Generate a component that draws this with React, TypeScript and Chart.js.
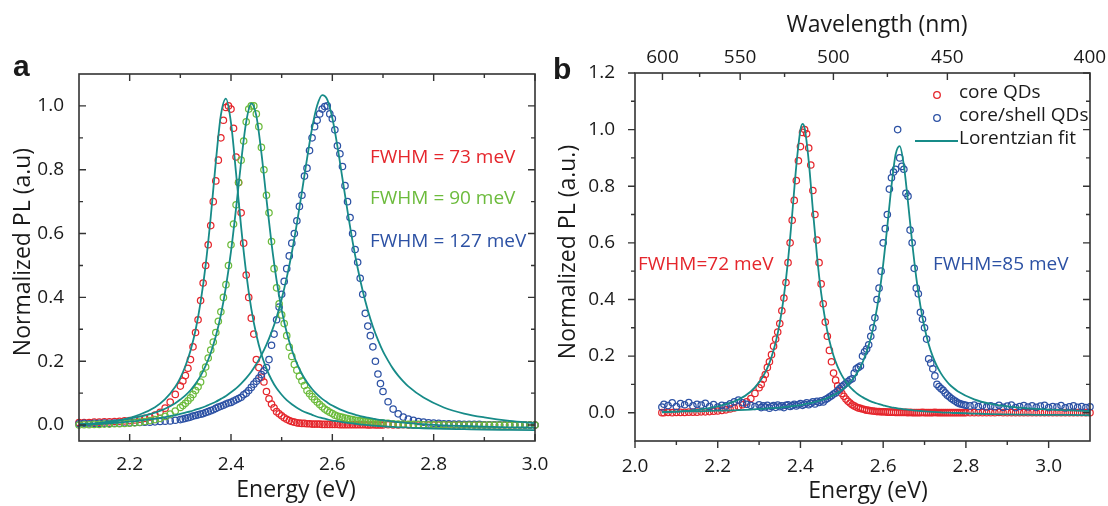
import React, { useEffect, useRef } from "react";
import { Chart, registerables } from "chart.js";
Chart.register(...registerables);

const FONT = "'Open Sans', 'Noto Sans', sans-serif";
const RED = "#e5262c";
const GREEN = "#6cbb3c";
const BLUE = "#2c51a4";
const TEAL = "#178b88";
const AXIS = "#333333";
const TEXT = "#1a1a1a";

// ---------- Panel a : points ----------
const energyA = [
  2.10, 2.11, 2.12, 2.13, 2.14, 2.15, 2.16, 2.17, 2.18, 2.19,
  2.20, 2.21, 2.22, 2.23, 2.24, 2.25, 2.26, 2.27, 2.28, 2.29,
  2.30, 2.305, 2.31, 2.315, 2.32, 2.325, 2.33, 2.335, 2.34, 2.345,
  2.35, 2.355, 2.36, 2.365, 2.37, 2.375, 2.38, 2.385, 2.39, 2.395,
  2.40, 2.405, 2.41, 2.415, 2.42, 2.425, 2.43, 2.435, 2.44, 2.445,
  2.45, 2.455, 2.46, 2.465, 2.47, 2.475, 2.48, 2.485, 2.49, 2.495,
  2.50, 2.505, 2.51, 2.515, 2.52, 2.525, 2.53, 2.535, 2.54, 2.545,
  2.55, 2.555, 2.56, 2.565, 2.57, 2.575, 2.58, 2.585, 2.59, 2.595,
  2.60, 2.605, 2.61, 2.615, 2.62, 2.625, 2.63, 2.635, 2.64, 2.645,
  2.65, 2.655, 2.66, 2.665, 2.67, 2.675, 2.68, 2.685, 2.69, 2.695,
  2.70, 2.71, 2.72, 2.73, 2.74, 2.75, 2.76, 2.77, 2.78, 2.79,
  2.80, 2.81, 2.82, 2.83, 2.84, 2.85, 2.86, 2.87, 2.88, 2.89,
  2.90, 2.91, 2.92, 2.93, 2.94, 2.95, 2.96, 2.97, 2.98, 2.99,
  3.00,
];
const redA = [
  0.008, 0.008, 0.008, 0.009, 0.009, 0.010, 0.010, 0.011, 0.012, 0.013,
  0.014, 0.016, 0.018, 0.021, 0.025, 0.031, 0.040, 0.053, 0.072, 0.096,
  0.122, 0.138, 0.155, 0.178, 0.205, 0.245, 0.29, 0.33, 0.39, 0.445,
  0.50, 0.565, 0.625, 0.70, 0.765, 0.83, 0.90, 0.955, 0.995, 1.0,
  0.99, 0.93, 0.84, 0.76, 0.665, 0.57, 0.47, 0.40, 0.335, 0.285,
  0.205, 0.18, 0.15, 0.135, 0.105, 0.082, 0.066, 0.054, 0.042, 0.035,
  0.029, 0.023, 0.018, 0.014, 0.011, 0.009, 0.007, 0.006, 0.005, 0.005,
  0.004, 0.004, 0.003, 0.003, 0.003, 0.003, 0.002, 0.002, 0.002, 0.002,
  0.002, 0.002, 0.002, 0.001, 0.001, 0.001, 0.001, 0.001, 0.001, 0.001,
  0.001, 0.001, 0.001, 0.001, 0.0, 0.0, 0.001, 0.0, 0.0, 0.0,
  0.0, 0.001, 0.0, 0.0, 0.001, 0.0, 0.0, 0.0, 0.001, 0.0,
  0.0, 0.0, 0.001, 0.0, 0.0, 0.0, 0.0, 0.001, 0.0, 0.0,
  0.0, 0.0, 0.0, 0.0, 0.0, 0.0, 0.0, 0.0, 0.0, 0.0,
  0.0,
];
const greenA = [
  0.000, 0.001, 0.001, 0.002, 0.002, 0.003, 0.003, 0.004, 0.004, 0.005,
  0.006, 0.007, 0.009, 0.011, 0.014, 0.017, 0.021, 0.027, 0.034, 0.044,
  0.055, 0.061, 0.068, 0.076, 0.085, 0.096, 0.108, 0.12, 0.135, 0.16,
  0.182, 0.21, 0.235, 0.26, 0.29, 0.325, 0.355, 0.40, 0.44, 0.50,
  0.565, 0.63, 0.69, 0.76, 0.83, 0.89, 0.95, 0.99, 1.0, 1.0,
  0.975, 0.935, 0.87, 0.80, 0.72, 0.665, 0.575, 0.49, 0.43, 0.38,
  0.345, 0.318, 0.28, 0.244, 0.215, 0.19, 0.172, 0.153, 0.138, 0.124,
  0.108, 0.098, 0.089, 0.08, 0.072, 0.064, 0.057, 0.05, 0.045, 0.04,
  0.036, 0.031, 0.028, 0.026, 0.024, 0.022, 0.020, 0.018, 0.017, 0.015,
  0.014, 0.013, 0.012, 0.011, 0.010, 0.009, 0.008, 0.008, 0.007, 0.007,
  0.006, 0.005, 0.004, 0.003, 0.003, 0.002, 0.002, 0.002, 0.001, 0.001,
  0.001, 0.001, 0.001, 0.0, 0.0, 0.0, 0.0, 0.0, 0.0, 0.0,
  0.0, 0.0, 0.0, 0.0, 0.0, 0.0, 0.0, 0.0, 0.0, 0.0,
  0.0,
];
const blueA = [
  0.004, 0.005, 0.004, 0.005, 0.005, 0.006, 0.005, 0.006, 0.006, 0.007,
  0.007, 0.008, 0.008, 0.009, 0.009, 0.010, 0.011, 0.012, 0.013, 0.015,
  0.017, 0.019, 0.021, 0.023, 0.025, 0.028, 0.030, 0.032, 0.034, 0.036,
  0.039, 0.042, 0.045, 0.048, 0.052, 0.056, 0.059, 0.062, 0.066, 0.069,
  0.071, 0.075, 0.079, 0.083, 0.087, 0.095, 0.10, 0.108, 0.118, 0.128,
  0.137, 0.147, 0.158, 0.17, 0.18, 0.205, 0.25, 0.285, 0.33, 0.37,
  0.41, 0.45, 0.49, 0.53, 0.57, 0.60, 0.64, 0.685, 0.72, 0.78,
  0.805, 0.86, 0.90, 0.935, 0.955, 0.975, 0.99, 0.998, 1.0, 0.975,
  0.96, 0.925, 0.875, 0.85, 0.81, 0.75, 0.70, 0.65, 0.60, 0.55,
  0.51, 0.46, 0.41, 0.35, 0.31, 0.28, 0.245, 0.20, 0.16, 0.13,
  0.105, 0.073, 0.05, 0.035, 0.025, 0.019, 0.015, 0.011, 0.009, 0.007,
  0.006, 0.005, 0.004, 0.004, 0.003, 0.003, 0.002, 0.002, 0.002, 0.002,
  0.001, 0.001, 0.001, 0.001, 0.001, 0.001, 0.001, 0.001, 0.0, 0.0,
  0.0,
];

// ---------- Panel a : Lorentzian fits ----------
const fitEnergyA = [
  2.10, 2.14, 2.18, 2.22, 2.25, 2.27, 2.29,
  2.30, 2.31, 2.32, 2.33, 2.34, 2.35, 2.36, 2.37, 2.38, 2.39,
  2.40, 2.41, 2.42, 2.43, 2.44, 2.45, 2.46, 2.47, 2.48, 2.49,
  2.50, 2.51, 2.52, 2.53, 2.54, 2.55, 2.56, 2.57, 2.58, 2.59,
  2.60, 2.61, 2.62, 2.63, 2.64, 2.65, 2.66, 2.67, 2.68, 2.69,
  2.70, 2.71, 2.72, 2.73, 2.74, 2.75,
  2.78, 2.82, 2.86, 2.90, 2.95, 3.00,
];
const redFitA = [
  -0.001, 0.005, 0.015, 0.033, 0.056, 0.081, 0.120,
  0.148, 0.185, 0.233, 0.297, 0.385, 0.502, 0.652, 0.824, 0.971, 1.023,
  0.947, 0.789, 0.620, 0.476, 0.365, 0.283, 0.222, 0.177, 0.142, 0.115,
  0.095, 0.078, 0.065, 0.054, 0.045, 0.038, 0.032, 0.026, 0.022, 0.018,
  0.014, 0.012, 0.009, 0.007, 0.005, 0.003, 0.001, 0.000, -0.002, -0.003,
  -0.004, -0.005, -0.006, -0.007, -0.007, -0.008,
  -0.010, -0.012, -0.013, -0.014, -0.015, -0.016,
];
const greenFitA = [
  0.003, 0.007, 0.015, 0.026, 0.039, 0.051, 0.068,
  0.080, 0.093, 0.109, 0.129, 0.154, 0.186, 0.226, 0.278, 0.345, 0.433,
  0.544, 0.679, 0.825, 0.950, 1.008, 0.969, 0.853, 0.708, 0.569, 0.453,
  0.361, 0.290, 0.236, 0.193, 0.160, 0.134, 0.113, 0.096, 0.082, 0.071,
  0.061, 0.053, 0.046, 0.040, 0.035, 0.030, 0.026, 0.023, 0.020, 0.017,
  0.015, 0.013, 0.011, 0.009, 0.008, 0.006,
  0.003, -0.001, -0.003, -0.005, -0.007, -0.008,
];
const blueFitA = [
  -0.001, 0.003, 0.008, 0.014, 0.020, 0.025, 0.031,
  0.035, 0.039, 0.043, 0.048, 0.053, 0.059, 0.066, 0.073, 0.082, 0.091,
  0.103, 0.115, 0.130, 0.147, 0.167, 0.191, 0.219, 0.252, 0.291, 0.338,
  0.395, 0.462, 0.540, 0.631, 0.731, 0.834, 0.930, 1.001, 1.034, 1.020,
  0.962, 0.874, 0.772, 0.670, 0.575, 0.492, 0.420, 0.360, 0.309, 0.267,
  0.231, 0.202, 0.176, 0.155, 0.137, 0.121,
  0.086, 0.055, 0.036, 0.024, 0.013, 0.006,
];

// ---------- Panel b : points ----------
const energyB = [
  2.065,
  2.07, 2.08, 2.09, 2.10, 2.11, 2.12, 2.13, 2.14, 2.15, 2.16,
  2.17, 2.18, 2.19, 2.20, 2.21, 2.22, 2.23, 2.24, 2.25, 2.26,
  2.27, 2.28, 2.29, 2.30, 2.305, 2.31, 2.315, 2.32, 2.325, 2.33,
  2.335, 2.34, 2.345, 2.35, 2.355, 2.36, 2.365, 2.37, 2.375, 2.38,
  2.385, 2.39, 2.395, 2.40, 2.405, 2.41, 2.415, 2.42, 2.425, 2.43,
  2.435, 2.44, 2.445, 2.45, 2.455, 2.46, 2.465, 2.47, 2.475, 2.48,
  2.485, 2.49, 2.495, 2.50, 2.505, 2.51, 2.515, 2.52, 2.525, 2.53,
  2.535, 2.54, 2.545, 2.55, 2.555, 2.56, 2.565, 2.57, 2.575, 2.58,
  2.585, 2.59, 2.595, 2.60, 2.605, 2.61, 2.615, 2.62, 2.625, 2.63,
  2.635, 2.64, 2.645, 2.65, 2.655, 2.66, 2.665, 2.67, 2.675, 2.68,
  2.685, 2.69, 2.695, 2.70, 2.705, 2.71, 2.715, 2.72, 2.725, 2.73,
  2.735, 2.74, 2.745, 2.75, 2.755, 2.76, 2.765, 2.77, 2.775, 2.78,
  2.785, 2.79, 2.795, 2.80, 2.81, 2.82, 2.83, 2.84, 2.85, 2.86,
  2.87, 2.88, 2.89, 2.90, 2.91, 2.92, 2.93, 2.94, 2.95, 2.96,
  2.97, 2.98, 2.99, 3.00, 3.01, 3.02, 3.03, 3.04, 3.05, 3.06,
  3.07, 3.08, 3.09, 3.10,
];
const coreB = [
  0.0,
  0.0, 0.001, 0.0, 0.001, 0.001, 0.001, 0.002, 0.002, 0.002, 0.003,
  0.003, 0.004, 0.005, 0.006, 0.008, 0.010, 0.013, 0.017, 0.022, 0.028,
  0.038, 0.050, 0.068, 0.088, 0.10, 0.118, 0.135, 0.16, 0.18, 0.205,
  0.235, 0.26, 0.285, 0.315, 0.36, 0.405, 0.46, 0.53, 0.60, 0.68,
  0.75, 0.82, 0.89, 0.94, 0.99, 1.0, 0.985, 0.935, 0.875, 0.785,
  0.70, 0.61, 0.53, 0.455, 0.385, 0.32, 0.27, 0.22, 0.18, 0.14,
  0.115, 0.095, 0.08, 0.068, 0.058, 0.048, 0.04, 0.034, 0.028, 0.024,
  0.02, 0.017, 0.015, 0.013, 0.011, 0.009, 0.008, 0.007, 0.006, 0.005,
  0.004, 0.004, 0.003, 0.003, 0.003, 0.002, 0.002, 0.002, 0.002, 0.001,
  0.001, 0.001, 0.001, 0.001, 0.001, 0.0, 0.001, 0.0, 0.0, 0.0,
  0.0, 0.0, 0.001, 0.0, 0.0, 0.0, 0.0, 0.0, 0.001, 0.0,
  0.0, 0.0, 0.0, 0.0, 0.0, 0.0, 0.0, 0.0, 0.0, 0.0,
  0.0, 0.0, 0.0, 0.0, 0.0, 0.0, 0.0, 0.0, 0.0, 0.0,
  0.0, 0.001, 0.0, 0.0, 0.0, 0.0, 0.0, 0.0, 0.0, 0.0,
  0.0, 0.0, 0.0, 0.0, 0.0, 0.0, 0.0, 0.0, 0.0, 0.0,
  0.0, 0.0, 0.0, 0.0,
];
const shellB = [
  0.020,
  0.030, 0.025, 0.035, 0.022, 0.032, 0.028, 0.036, 0.024, 0.030, 0.027,
  0.033, 0.022, 0.029, 0.020, 0.026, 0.024, 0.031, 0.038, 0.045, 0.035,
  0.030, 0.026, 0.022, 0.028, 0.018, 0.024, 0.020, 0.026, 0.016, 0.022,
  0.025, 0.019, 0.027, 0.021, 0.024, 0.018, 0.026, 0.028, 0.022, 0.025,
  0.030, 0.024, 0.028, 0.032, 0.026, 0.030, 0.035, 0.028, 0.033, 0.038,
  0.031, 0.040, 0.036, 0.042, 0.038, 0.046, 0.050, 0.055, 0.060, 0.066,
  0.070, 0.078, 0.085, 0.092, 0.098, 0.104, 0.110, 0.116, 0.120, 0.140,
  0.155, 0.160, 0.165, 0.200, 0.215, 0.225, 0.240, 0.270, 0.300, 0.335,
  0.40, 0.44, 0.50, 0.60, 0.65, 0.70, 0.79, 0.83, 0.85, 0.86,
  1.0, 0.90, 0.87, 0.86, 0.775, 0.765, 0.645, 0.60, 0.51, 0.44,
  0.42, 0.355, 0.33, 0.30, 0.26, 0.19, 0.175, 0.155, 0.13, 0.10,
  0.092, 0.085, 0.079, 0.070, 0.062, 0.056, 0.050, 0.045, 0.040, 0.035,
  0.032, 0.030, 0.028, 0.026, 0.024, 0.027, 0.022, 0.025, 0.020, 0.024,
  0.021, 0.026, 0.019, 0.023, 0.027, 0.018, 0.022, 0.025, 0.020, 0.024,
  0.019, 0.023, 0.026, 0.018, 0.022, 0.020, 0.025, 0.017, 0.021, 0.024,
  0.019, 0.022, 0.018, 0.021,
];

// ---------- Panel b : Lorentzian fits ----------
const fitEnergyB = [
  2.065, 2.10, 2.15, 2.20, 2.25, 2.28,
  2.30, 2.31, 2.32, 2.33, 2.34, 2.35, 2.36, 2.37, 2.38, 2.39,
  2.40, 2.405, 2.41, 2.42, 2.43, 2.44, 2.45, 2.46, 2.47, 2.48,
  2.49, 2.50, 2.51, 2.52, 2.53, 2.54, 2.55, 2.56, 2.57, 2.58,
  2.59, 2.60, 2.61, 2.62, 2.63, 2.64, 2.65, 2.66, 2.67, 2.68,
  2.69, 2.70, 2.71, 2.72, 2.73, 2.74, 2.75, 2.76, 2.77, 2.78,
  2.82, 2.86, 2.90, 2.95, 3.00, 3.05, 3.10,
];
const coreFitB = [
  0.001, 0.004, 0.010, 0.022, 0.046, 0.075,
  0.107, 0.129, 0.158, 0.197, 0.248, 0.317, 0.412, 0.539, 0.700, 0.873,
  0.999, 1.020, 1.006, 0.889, 0.717, 0.554, 0.423, 0.326, 0.254, 0.201,
  0.162, 0.132, 0.109, 0.090, 0.076, 0.064, 0.055, 0.047, 0.040, 0.035,
  0.030, 0.026, 0.022, 0.019, 0.017, 0.014, 0.012, 0.011, 0.009, 0.007,
  0.006, 0.005, 0.004, 0.003, 0.002, 0.001, 0.000, 0.000, -0.001, -0.001,
  -0.003, -0.005, -0.006, -0.007, -0.008, -0.008, -0.009,
];
const shellFitB = [
  0.003, 0.004, 0.005, 0.007, 0.009, 0.011,
  0.013, 0.014, 0.015, 0.016, 0.017, 0.018, 0.020, 0.021, 0.023, 0.025,
  0.027, 0.028, 0.030, 0.033, 0.036, 0.040, 0.044, 0.049, 0.055, 0.062,
  0.070, 0.080, 0.092, 0.107, 0.125, 0.148, 0.177, 0.215, 0.264, 0.329,
  0.414, 0.524, 0.658, 0.800, 0.912, 0.942, 0.874, 0.744, 0.602, 0.477,
  0.377, 0.300, 0.242, 0.198, 0.164, 0.138, 0.117, 0.100, 0.087, 0.076,
  0.047, 0.031, 0.022, 0.015, 0.011, 0.008, 0.006,
];

// ---------- Ticks ----------
const xTicksA = [2.2, 2.4, 2.6, 2.8, 3.0];
const xMinorA = [2.3, 2.5, 2.7, 2.9];
const yTicksA = [0.0, 0.2, 0.4, 0.6, 0.8, 1.0];
const yMinorA = [0.1, 0.3, 0.5, 0.7, 0.9];
const xTicksB = [2.0, 2.2, 2.4, 2.6, 2.8, 3.0];
const xMinorB = [2.1, 2.3, 2.5, 2.7, 2.9];
const yTicksB = [0.0, 0.2, 0.4, 0.6, 0.8, 1.0, 1.2];
const yMinorB = [0.1, 0.3, 0.5, 0.7, 0.9, 1.1];
const wavelengthTicks = [600, 550, 500, 450, 400];
const wavelengthMinor = [575, 525, 475, 425];
const HC = 1239.84; // eV*nm, photon energy <-> wavelength

const pairs = (xs: number[], ys: number[]) => {
  const n = Math.min(xs.length, ys.length);
  const out: { x: number; y: number }[] = [];
  for (let i = 0; i < n; i++) out.push({ x: xs[i], y: ys[i] });
  return out;
};

const pointSet = (label: string, xs: number[], ys: number[], color: string) => ({
  label,
  data: pairs(xs, ys),
  showLine: false,
  pointRadius: 3.2,
  pointBorderWidth: 1.25,
  pointBorderColor: color,
  pointBackgroundColor: "rgba(255,255,255,0)",
  borderColor: color,
  backgroundColor: "rgba(255,255,255,0)",
  pointHoverRadius: 3.2,
  clip: false,
});

const fitSet = (label: string, xs: number[], ys: number[]) => ({
  label,
  data: pairs(xs, ys),
  showLine: true,
  borderColor: TEAL,
  borderWidth: 1.8,
  pointRadius: 0,
  pointHoverRadius: 0,
  fill: false,
  cubicInterpolationMode: "monotone",
});

type Spec = {
  xMajor: number[];
  xMinor: number[];
  yMajor: number[];
  yMinor: number[];
  topMajor: number[];
  topMinor: number[];
  outward: boolean;
};

const frameTicks = (spec: Spec) => ({
  id: "frameTicks",
  afterDraw(chart: any) {
    const { ctx, chartArea: a } = chart;
    const xs = chart.scales.x;
    const ys = chart.scales.y;
    const MAJ = 7;
    const MIN = 4;
    const d = spec.outward ? -1 : 1;
    ctx.save();
    ctx.strokeStyle = AXIS;
    ctx.lineWidth = 1.4;
    ctx.beginPath();
    const seg = (x1: number, y1: number, x2: number, y2: number) => {
      ctx.moveTo(x1, y1);
      ctx.lineTo(x2, y2);
    };
    const bottom = (vals: number[], len: number) =>
      vals.forEach((v) => {
        const p = xs.getPixelForValue(v);
        seg(p, a.bottom, p, a.bottom - d * len);
      });
    const top = (vals: number[], len: number) =>
      vals.forEach((v) => {
        const p = xs.getPixelForValue(v);
        seg(p, a.top, p, a.top + len);
      });
    const left = (vals: number[], len: number) =>
      vals.forEach((v) => {
        const p = ys.getPixelForValue(v);
        seg(a.left, p, a.left + d * len, p);
      });
    const right = (vals: number[], len: number) =>
      vals.forEach((v) => {
        const p = ys.getPixelForValue(v);
        seg(a.right, p, a.right - len, p);
      });
    bottom(spec.xMajor, MAJ);
    bottom(spec.xMinor, MIN);
    top(spec.topMajor, MAJ);
    top(spec.topMinor, MIN);
    left(spec.yMajor, MAJ);
    left(spec.yMinor, MIN);
    right(spec.yMajor, MAJ);
    right(spec.yMinor, MIN);
    ctx.stroke();
    ctx.lineWidth = 1.6;
    ctx.strokeRect(a.left, a.top, a.right - a.left, a.bottom - a.top);
    ctx.restore();
  },
});

const tickFont = { family: FONT, size: 19 };

function configA(): any {
  return {
    type: "scatter",
    data: {
      datasets: [
        fitSet("fit 1", fitEnergyA, redFitA),
        fitSet("fit 2", fitEnergyA, greenFitA),
        fitSet("fit 3", fitEnergyA, blueFitA),
        pointSet("FWHM 90", energyA, greenA, GREEN),
        pointSet("FWHM 127", energyA, blueA, BLUE),
        pointSet("FWHM 73", energyA, redA, RED),
      ],
    },
    options: {
      animation: false,
      responsive: false,
      devicePixelRatio: 1,
      events: [],
      layout: { padding: { top: 74, right: 19, left: 0, bottom: 0 } },
      plugins: { legend: { display: false }, tooltip: { enabled: false } },
      scales: {
        x: {
          type: "linear",
          position: "bottom",
          min: 2.1,
          max: 3.0,
          grid: { display: false },
          border: { display: false },
          ticks: {
            font: tickFont,
            color: TEXT,
            padding: 4,
            autoSkip: false,
            maxRotation: 0,
            callback: (v: any) => Number(v).toFixed(1),
          },
          afterBuildTicks: (s: any) => {
            s.ticks = xTicksA.map((v) => ({ value: v }));
          },
          afterFit: (s: any) => {
            s.height = 65;
          },
        },
        y: {
          type: "linear",
          position: "left",
          min: -0.05,
          max: 1.1,
          grid: { display: false },
          border: { display: false },
          ticks: {
            font: tickFont,
            color: TEXT,
            padding: 7,
            autoSkip: false,
            callback: (v: any) => Number(v).toFixed(1),
          },
          afterBuildTicks: (s: any) => {
            s.ticks = yTicksA.map((v) => ({ value: v }));
          },
          afterFit: (s: any) => {
            s.width = 79;
          },
        },
      },
    },
    plugins: [
      frameTicks({
        xMajor: xTicksA,
        xMinor: xMinorA,
        yMajor: yTicksA,
        yMinor: yMinorA,
        topMajor: xTicksA,
        topMinor: xMinorA,
        outward: false,
      }),
    ],
  };
}

function configB(): any {
  return {
    type: "scatter",
    data: {
      datasets: [
        fitSet("Lorentzian fit", fitEnergyB, coreFitB),
        fitSet("Lorentzian fit 2", fitEnergyB, shellFitB),
        pointSet("core/shell QDs", energyB, shellB, BLUE),
        pointSet("core QDs", energyB, coreB, RED),
      ],
    },
    options: {
      animation: false,
      responsive: false,
      devicePixelRatio: 1,
      events: [],
      layout: { padding: { top: 0, right: 18, left: 0, bottom: 0 } },
      plugins: { legend: { display: false }, tooltip: { enabled: false } },
      scales: {
        x: {
          type: "linear",
          position: "bottom",
          min: 2.0,
          max: 3.1,
          grid: { display: false },
          border: { display: false },
          ticks: {
            font: tickFont,
            color: TEXT,
            padding: 6,
            autoSkip: false,
            maxRotation: 0,
            callback: (v: any) => Number(v).toFixed(1),
          },
          afterBuildTicks: (s: any) => {
            s.ticks = xTicksB.map((v) => ({ value: v }));
          },
          afterFit: (s: any) => {
            s.height = 65;
          },
        },
        xTop: {
          type: "linear",
          position: "top",
          min: 2.0,
          max: 3.1,
          grid: { display: false },
          border: { display: false },
          ticks: {
            font: tickFont,
            color: TEXT,
            padding: -4,
            autoSkip: false,
            maxRotation: 0,
            callback: (_v: any, i: number) => String(wavelengthTicks[i]),
          },
          afterBuildTicks: (s: any) => {
            s.ticks = wavelengthTicks.map((w) => ({ value: HC / w }));
          },
          afterFit: (s: any) => {
            s.height = 73;
          },
        },
        y: {
          type: "linear",
          position: "left",
          min: -0.1,
          max: 1.2,
          grid: { display: false },
          border: { display: false },
          ticks: {
            font: tickFont,
            color: TEXT,
            padding: 12,
            autoSkip: false,
            callback: (v: any) => Number(v).toFixed(1),
          },
          afterBuildTicks: (s: any) => {
            s.ticks = yTicksB.map((v) => ({ value: v }));
          },
          afterFit: (s: any) => {
            s.width = 81;
          },
        },
      },
    },
    plugins: [
      frameTicks({
        xMajor: xTicksB,
        xMinor: xMinorB,
        yMajor: yTicksB,
        yMinor: yMinorB,
        topMajor: wavelengthTicks.map((w) => HC / w),
        topMinor: wavelengthMinor.map((w) => HC / w),
        outward: true,
      }),
    ],
  };
}

export default function App() {
  const refA = useRef<HTMLCanvasElement>(null);
  const refB = useRef<HTMLCanvasElement>(null);

  useEffect(() => {
    const ca = new Chart(refA.current as HTMLCanvasElement, configA());
    const cb = new Chart(refB.current as HTMLCanvasElement, configB());
    return () => {
      ca.destroy();
      cb.destroy();
    };
  }, []);

  const t = { fontFamily: FONT } as any;
  const bold = { fontFamily: "'Liberation Sans', Arial, sans-serif", fontWeight: 700 } as any;

  return (
    <div style={{ position: "absolute", left: 0, top: 0, width: 1108, height: 506, background: "#fff" }}>
      <canvas ref={refA} width={554} height={506} style={{ position: "absolute", left: 0, top: 0, width: 554, height: 506 }} />
      <canvas ref={refB} width={554} height={506} style={{ position: "absolute", left: 554, top: 0, width: 554, height: 506 }} />
      <svg width={1108} height={506} style={{ position: "absolute", left: 0, top: 0, pointerEvents: "none" }}>
        <text x={13} y={76} fontSize={30} fill={TEXT} style={bold}>a</text>
        <text x={553} y={79} fontSize={30} fill={TEXT} style={bold}>b</text>

        <text transform="translate(30,252) rotate(-90)" textAnchor="middle" fontSize={23} fill={TEXT} style={t}>
          Normalized PL (a.u)
        </text>
        <text x={296} y={497} textAnchor="middle" fontSize={23} fill={TEXT} style={t}>Energy (eV)</text>

        <text x={370} y={163} fontSize={19} fill={RED} style={t}>FWHM = 73 meV</text>
        <text x={370} y={204} fontSize={19} fill={GREEN} style={t}>FWHM = 90 meV</text>
        <text x={370} y={247} fontSize={19} fill={BLUE} style={t}>FWHM = 127 meV</text>

        <text x={877} y={32} textAnchor="middle" fontSize={23} fill={TEXT} style={t}>Wavelength (nm)</text>
        <text transform="translate(575,252) rotate(-90)" textAnchor="middle" fontSize={23} fill={TEXT} style={t}>
          Normalized PL (a.u.)
        </text>
        <text x={868} y={498} textAnchor="middle" fontSize={23} fill={TEXT} style={t}>Energy (eV)</text>

        <text x={638} y={270} fontSize={19} fill={RED} style={t}>FWHM=72 meV</text>
        <text x={933} y={270} fontSize={19} fill={BLUE} style={t}>FWHM=85 meV</text>

        <circle cx={937} cy={95} r={3.3} fill="none" stroke={RED} strokeWidth={1.3} />
        <text x={959} y={97.5} fontSize={19} fill={TEXT} style={t}>core QDs</text>
        <circle cx={937} cy={118} r={3.3} fill="none" stroke={BLUE} strokeWidth={1.3} />
        <text x={959} y={120.5} fontSize={19} fill={TEXT} style={t}>core/shell QDs</text>
        <line x1={915} y1={141} x2={958} y2={141} stroke={TEAL} strokeWidth={1.8} />
        <text x={959} y={143.5} fontSize={19} fill={TEXT} style={t}>Lorentzian fit</text>
      </svg>
    </div>
  );
}
